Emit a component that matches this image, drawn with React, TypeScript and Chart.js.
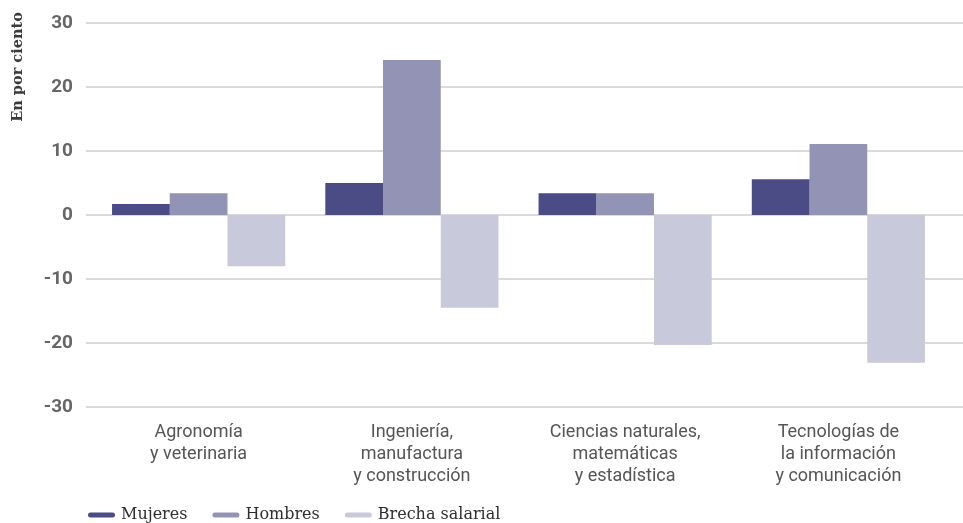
import React, { useEffect, useRef } from "react";
import { Chart, registerables } from "chart.js";

Chart.register(...registerables);

const categories: string[][] = [
  ["Agronomía", "y veterinaria"],
  ["Ingeniería,", "manufactura", "y construcción"],
  ["Ciencias naturales,", "matemáticas", "y estadística"],
  ["Tecnologías de", "la información", "y comunicación"],
];
const seriesNames = ["Mujeres", "Hombres", "Brecha salarial"];
const mujeres = [1.7, 5.0, 3.4, 5.6];
const hombres = [3.4, 24.2, 3.4, 11.1];
const brecha = [-8.0, -14.5, -20.3, -23.1];
const yMin = -30;
const yMax = 30;
const yStep = 10;
const yTitle = "En por ciento";

const colors = ["#4b4b85", "#9393b5", "#c9c9dc"];

export default function App() {
  const ref = useRef<HTMLCanvasElement | null>(null);
  useEffect(() => {
    if (!ref.current) return;
    const gridPlugin = {
      id: "customGrid",
      beforeDatasetsDraw(chart: any) {
        const ctx = chart.ctx;
        const y = chart.scales.y;
        ctx.save();
        ctx.strokeStyle = "#dadada";
        ctx.lineWidth = 2;
        y.ticks.forEach((t: any) => {
          const py = Math.round(y.getPixelForValue(t.value));
          ctx.beginPath();
          ctx.moveTo(86, py);
          ctx.lineTo(chart.width, py);
          ctx.stroke();
        });
        ctx.restore();
      },
    };
    const extrasPlugin = {
      id: "extras",
      afterDraw(chart: any) {
        const ctx = chart.ctx;
        ctx.save();
        ctx.font = "bold 14.5px 'DejaVu Serif'";
        ctx.fillStyle = "#3a3a3a";
        ctx.translate(18, 67);
        ctx.rotate(-Math.PI / 2);
        ctx.textAlign = "center";
        ctx.textBaseline = "middle";
        ctx.fillText(yTitle, 0, 0);
        ctx.restore();
        ctx.save();
        ctx.font = "16px 'DejaVu Serif'";
        ctx.textBaseline = "middle";
        ctx.textAlign = "left";
        let x = 88;
        const ly = 515;
        chart.data.datasets.forEach((ds: any) => {
          ctx.fillStyle = ds.backgroundColor;
          ctx.beginPath();
          if ((ctx as any).roundRect) (ctx as any).roundRect(x, ly - 2.5, 27, 5, 2.5);
          else ctx.rect(x, ly - 2.5, 27, 5);
          ctx.fill();
          ctx.fillStyle = "#2e2e2e";
          ctx.fillText(ds.label, x + 33, ly);
          x += 33 + ctx.measureText(ds.label).width + 25;
        });
        ctx.restore();
      },
    };
    const chart = new Chart(ref.current, {
      type: "bar",
      data: {
        labels: categories,
        datasets: [
          { label: seriesNames[0], data: mujeres, backgroundColor: colors[0] },
          { label: seriesNames[1], data: hombres, backgroundColor: colors[1] },
          { label: seriesNames[2], data: brecha, backgroundColor: colors[2] },
        ],
      },
      options: {
        responsive: false,
        animation: false,
        layout: { padding: { top: 23, right: 18, bottom: 36, left: 0 } },
        datasets: {
          bar: { barPercentage: 1, categoryPercentage: 0.812 },
        },
        plugins: {
          legend: { display: false },
          tooltip: { enabled: false },
        },
        scales: {
          x: {
            grid: { display: false, drawTicks: false },
            border: { display: false },
            ticks: {
              padding: 14,
              color: "#555555",
              font: { family: "Roboto", size: 18, lineHeight: 1.24 },
              maxRotation: 0,
              autoSkip: false,
            },
            afterFit: (s: any) => {
              s.height = 80;
              s.paddingLeft = 0;
              s.paddingRight = 0;
            },
          },
          y: {
            min: yMin,
            max: yMax,
            grid: { display: false, drawTicks: false },
            border: { display: false },
            ticks: {
              stepSize: yStep,
              padding: 19,
              color: "#666666",
              font: { family: "Roboto", size: 19, weight: "bold" },
            },
            afterFit: (s: any) => {
              s.width = 92;
              s.paddingTop = 0;
              s.paddingBottom = 0;
            },
          },
        },
      },
      plugins: [gridPlugin, extrasPlugin],
    } as any);
    return () => chart.destroy();
  }, []);
  return (
    <div style={{ position: "absolute", left: 0, top: 0, width: 963, height: 523, background: "#fff" }}>
      <canvas ref={ref} width={963} height={523} />
    </div>
  );
}
